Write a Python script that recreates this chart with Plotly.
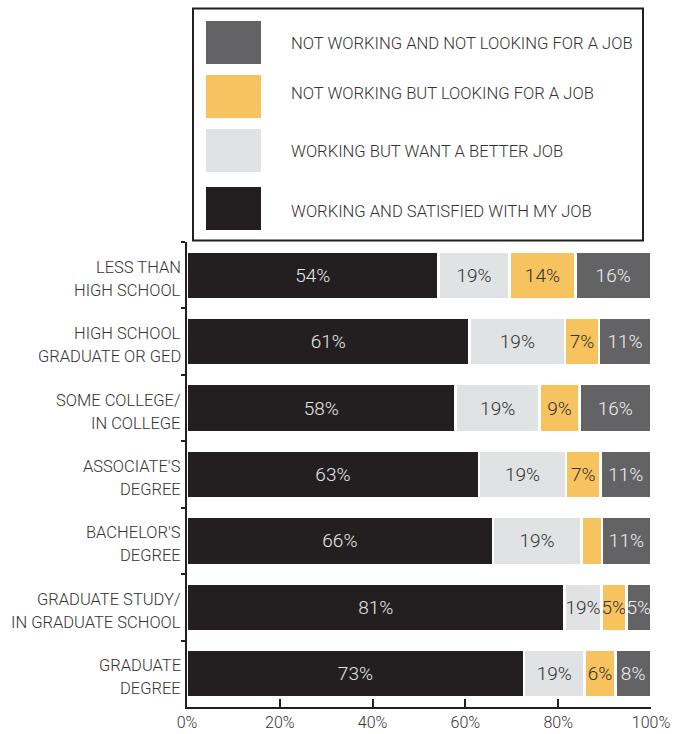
import plotly.graph_objects as go

# ---------------- data ----------------
categories = [
    "LESS THAN<br>HIGH SCHOOL",
    "HIGH SCHOOL<br>GRADUATE OR GED",
    "SOME COLLEGE/<br>IN COLLEGE",
    "ASSOCIATE'S<br>DEGREE",
    "BACHELOR'S<br>DEGREE",
    "GRADUATE STUDY/<br>IN GRADUATE SCHOOL",
    "GRADUATE<br>DEGREE",
]
series_names = [
    "WORKING AND SATISFIED WITH MY JOB",
    "WORKING BUT WANT A BETTER JOB",
    "NOT WORKING BUT LOOKING FOR A JOB",
    "NOT WORKING AND NOT LOOKING FOR A JOB",
]
satisfied = [54.2, 60.9, 57.9, 62.9, 65.9, 81.4, 72.6]
better_job = [15.3, 20.6, 18.1, 18.8, 19.1, 7.9, 13.1]
looking = [14.2, 7.3, 8.6, 7.4, 4.4, 5.4, 6.6]
not_looking = [16.3, 11.2, 15.4, 10.9, 10.6, 5.3, 7.7]

satisfied_labels = ["54%", "61%", "58%", "63%", "66%", "81%", "73%"]
better_job_labels = ["19%", "19%", "19%", "19%", "19%", "19%", "19%"]
looking_labels = ["14%", "7%", "9%", "7%", "", "5%", "6%"]
not_looking_labels = ["16%", "11%", "16%", "11%", "11%", "5%", "8%"]

x_ticks = [0, 20, 40, 60, 80, 100]
x_tick_labels = ["0%", "20%", "40%", "60%", "80%", "100%"]

# ---------------- style ----------------
colors = ["#231f20", "#e1e2e4", "#f6c35f", "#636365"]
text_colors = ["#e6e6e6", "#333333", "#333333", "#eeeeee"]
FONT = "Roboto"
WEIGHT = 300
W, H = 689, 734
L, R, T, B = 187, 651, 242, 707


def px_x(x):
    return (x - L) / (R - L)


def px_y(y):
    return (B - y) / (B - T)


values = [satisfied, better_job, looking, not_looking]
labels = [satisfied_labels, better_job_labels, looking_labels, not_looking_labels]

fig = go.Figure()
for name, vals, labs, c, tc in zip(series_names, values, labels, colors, text_colors):
    fig.add_trace(go.Bar(
        y=categories, x=vals, name=name, orientation="h",
        marker=dict(color=c, line=dict(color="white", width=2.5)),
        text=labs, textposition="inside", insidetextanchor="middle",
        constraintext="none", textangle=0,
        textfont=dict(family=FONT, size=19, color=tc, weight=WEIGHT),
        hoverinfo="skip", showlegend=False,
    ))

# category labels (two lines each)
annotations = []
for cat in categories:
    lines = cat.split("<br>")
    for i, ln in enumerate(lines):
        annotations.append(dict(
            x=0, xref="paper", y=cat, yref="y", text=ln, showarrow=False,
            xanchor="right", yanchor="middle", xshift=-4,
            yshift=8 - 23 * i,
            font=dict(family=FONT, size=16.5, color="#333333", weight=WEIGHT),
        ))

# custom legend box
shapes = [dict(type="rect", xref="paper", yref="paper",
               x0=px_x(193), x1=px_x(643), y0=px_y(240.5), y1=px_y(8.5),
               line=dict(color="#231f20", width=2), fillcolor="white")]
leg_tops = [21, 75, 129, 187]
leg_text_y = [43, 93, 152, 211]
leg_order = [3, 2, 1, 0]
for top, ty, idx in zip(leg_tops, leg_text_y, leg_order):
    shapes.append(dict(type="rect", xref="paper", yref="paper",
                       x0=px_x(206), x1=px_x(261), y0=px_y(top + 43), y1=px_y(top),
                       line=dict(width=0), fillcolor=colors[idx]))
    annotations.append(dict(
        x=px_x(289), xref="paper", y=px_y(ty), yref="paper",
        text=series_names[idx], showarrow=False, xanchor="left", yanchor="middle",
        font=dict(family=FONT, size=16.6, color="#333333", weight=WEIGHT),
    ))

fig.update_layout(
    template="none",
    width=W, height=H,
    margin=dict(l=L, r=W - R, t=T, b=H - B, pad=0),
    barmode="stack", bargap=0.28,
    paper_bgcolor="white", plot_bgcolor="white",
    font=dict(family=FONT, size=16, color="#333333", weight=WEIGHT),
    shapes=shapes, annotations=annotations,
    showlegend=False,
    xaxis=dict(range=[0, 100], tickvals=x_ticks, ticktext=x_tick_labels,
               showgrid=False, zeroline=False, showline=True, linewidth=2,
               linecolor="#231f20", ticks="inside", ticklen=8, tickwidth=2,
               tickcolor="#231f20", ticklabelstandoff=0, automargin=False,
               tickfont=dict(family=FONT, size=16, color="#333333", weight=WEIGHT),
               fixedrange=True),
    yaxis=dict(categoryorder="array", categoryarray=categories,
               range=[6.5, -0.5], showgrid=False, zeroline=False, showline=True,
               linewidth=2, linecolor="#231f20", ticks="outside", ticklen=4,
               tickwidth=1.5, tickcolor="#231f20", tickson="boundaries",
               showticklabels=False, automargin=False, fixedrange=True),
)

fig.write_html("out.html")
